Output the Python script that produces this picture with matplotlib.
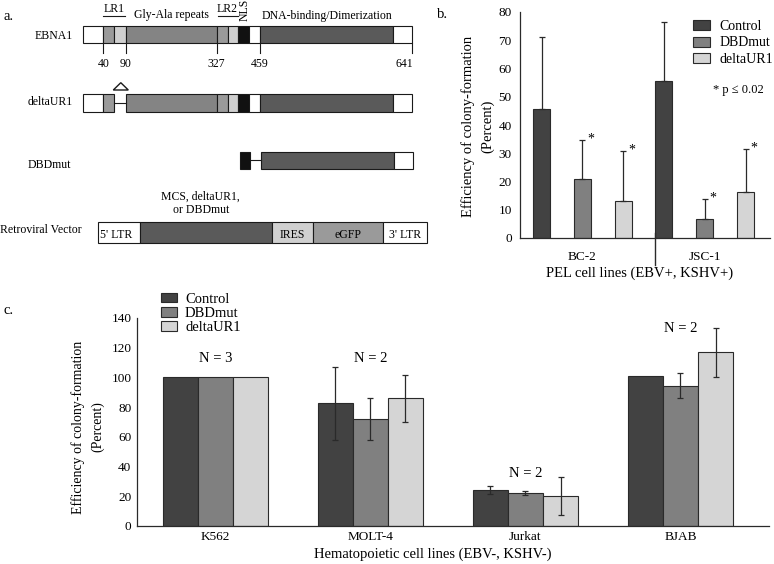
import matplotlib
matplotlib.use('Agg')
import matplotlib.pyplot as plt
from matplotlib.patches import Rectangle, Polygon, Patch
import numpy as np

plt.rcParams['font.family'] = ['Liberation Serif', 'DejaVu Serif']

# ---------------- data ----------------
series = ['Control', 'DBDmut', 'deltaUR1']
colors = ['#424242', '#808080', '#d5d5d5']

# panel b: PEL cell lines
pel_lines = ['BC-2', 'JSC-1']
pel_control = [45.5, 55.5]
pel_dbdmut = [21.0, 6.6]
pel_deltaur1 = [13.1, 16.4]
pel_control_err = [25.5, 20.8]
pel_dbdmut_err = [13.6, 7.3]
pel_deltaur1_err = [17.6, 15.2]
pel_signif = [[False, True, True], [False, True, True]]

# panel c: hematopoietic cell lines
hem_lines = ['K562', 'MOLT-4', 'Jurkat', 'BJAB']
hem_control = [100, 82.4, 24.0, 100.8]
hem_dbdmut = [100, 71.9, 21.8, 94.5]
hem_deltaur1 = [100, 85.8, 20.0, 116.8]
hem_control_err = [0, 24.7, 2.6, 0]
hem_dbdmut_err = [0, 14.2, 1.4, 8.3]
hem_deltaur1_err = [0, 15.7, 12.7, 16.4]
hem_n = ['N = 3', 'N = 2', 'N = 2', 'N = 2']
hem_n_y = [113, 113, 35.5, 133]

# panel a: schematic segments (start, end, fill) in layout units
ebna1_segments = [(82.7, 103.3, 'white'), (103.3, 114.3, '#9a9a9a'), (114.3, 125.7, '#cfcfcf'),
                  (125.7, 216.7, '#848484'), (216.7, 227.7, '#9a9a9a'), (227.7, 238.3, '#cfcfcf'),
                  (238.3, 249.3, '#111111'), (249.3, 260.0, 'white'), (260.0, 393.3, '#5a5a5a'),
                  (393.3, 412.3, 'white')]
ebna1_ticks = [103.3, 125.7, 216.7, 260.0, 412.3]
ebna1_tick_labels = ['40', '90', '327', '459', '641']
delta_segments = [(82.7, 103.3, 'white'), (103.3, 114.3, '#9a9a9a'),
                  (126.0, 217.3, '#848484'), (217.3, 227.7, '#9a9a9a'), (227.7, 238.3, '#cfcfcf'),
                  (238.3, 249.3, '#111111'), (249.3, 260.0, 'white'), (260.0, 393.3, '#5a5a5a'),
                  (393.3, 412.3, 'white')]
dbd_segments = [(239.5, 249.8, '#111111'), (261.0, 394.3, '#5a5a5a'), (394.3, 413.3, 'white')]
vector_segments = [(98.3, 140.0, 'white', "5' LTR"), (140.0, 271.7, '#5a5a5a', ''),
                   (271.7, 313.3, '#d0d0d0', 'IRES'), (313.3, 383.3, '#9a9a9a', 'eGFP'),
                   (383.3, 426.7, 'white', "3' LTR")]

W, H = 774, 564
fig = plt.figure(figsize=(W / 100, H / 100), dpi=100)

def px_axes(left, top, right, bottom):
    return fig.add_axes([left / W, 1 - bottom / H, (right - left) / W, (bottom - top) / H])

# ---------------- overlay for schematic and panel letters ----------------
ov = fig.add_axes([0, 0, 1, 1], zorder=0)
ov.set_xlim(0, W)
ov.set_ylim(H, 0)
ov.axis('off')
ec = '#1a1a1a'

def draw_row(segs, y0, y1):
    for s in segs:
        ov.add_patch(Rectangle((s[0], y0), s[1] - s[0], y1 - y0, facecolor=s[2],
                               edgecolor=ec, linewidth=0.8))

fs_a = 8.5
ov.text(3, 16, 'a.', fontsize=10.5, va='center', ha='left')
ov.text(437, 15, 'b.', fontsize=10.5, va='center', ha='left')
ov.text(3, 311, 'c.', fontsize=10.5, va='center', ha='left')

# EBNA1
draw_row(ebna1_segments, 26, 43.3)
for t, lab in zip(ebna1_ticks, ebna1_tick_labels):
    ov.plot([t, t], [43.3, 53], color=ec, lw=0.8)
    if lab == '641':
        ov.text(t + 1, 64, lab, fontsize=fs_a, ha='right', va='center')
    else:
        ov.text(t, 64, lab, fontsize=fs_a, ha='center', va='center')
ov.text(73, 36, 'EBNA1', fontsize=fs_a, ha='right', va='center')
ov.text(114.5, 9.5, 'LR1', fontsize=fs_a, ha='center', va='center')
ov.plot([103, 125], [15.5, 15.5], color=ec, lw=0.8)
ov.text(171, 15, 'Gly-Ala repeats', fontsize=fs_a, ha='center', va='center')
ov.text(227.5, 9.5, 'LR2', fontsize=fs_a, ha='center', va='center')
ov.plot([217.5, 237.5], [15.5, 15.5], color=ec, lw=0.8)
ov.text(245, 10, 'NLS', fontsize=fs_a, ha='center', va='center', rotation=90)
ov.text(327, 15.5, 'DNA-binding/Dimerization', fontsize=fs_a, ha='center', va='center')

# deltaUR1
ov.add_patch(Polygon([[113.3, 90], [128.3, 90], [120.8, 82.7]], closed=True,
                     facecolor='white', edgecolor=ec, linewidth=1.0))
ov.plot([114.3, 126.0], [103.3, 103.3], color=ec, lw=0.8)
draw_row(delta_segments, 94.3, 112.3)
ov.text(73, 102, 'deltaUR1', fontsize=fs_a, ha='right', va='center')

# DBDmut
ov.plot([249.8, 261.0], [160.3, 160.3], color=ec, lw=0.8)
draw_row(dbd_segments, 151.7, 169)
ov.text(71, 165, 'DBDmut', fontsize=fs_a, ha='right', va='center')

# Retroviral vector
draw_row(vector_segments, 221.7, 243.3)
for s in vector_segments:
    if s[3]:
        if s[3] == "5' LTR":
            ov.text(s[0] + 2, 234.5, s[3], fontsize=fs_a, ha='left', va='center')
        else:
            ov.text((s[0] + s[1]) / 2, 234.5, s[3], fontsize=fs_a, ha='center', va='center')
ov.text(0, 230, 'Retroviral Vector', fontsize=fs_a, ha='left', va='center')
ov.text(200, 196.7, 'MCS, deltaUR1,', fontsize=fs_a, ha='center', va='center')
ov.text(201, 210, 'or DBDmut', fontsize=fs_a, ha='center', va='center')

# ---------------- panel b ----------------
axb = px_axes(520, 12, 770, 238)
axb.set_facecolor('none')
bw = 0.417
vals_b = [pel_control, pel_dbdmut, pel_deltaur1]
errs_b = [pel_control_err, pel_dbdmut_err, pel_deltaur1_err]
for si in range(3):
    xs = np.arange(len(pel_lines)) * 3 + si
    axb.bar(xs, vals_b[si], width=bw, color=colors[si], edgecolor='#2a2a2a', linewidth=0.8,
            zorder=2)
    axb.errorbar(xs, vals_b[si], yerr=[np.zeros(len(xs)), errs_b[si]], fmt='none',
                 ecolor='#2a2a2a', elinewidth=0.9, capsize=2, capthick=0.9, zorder=3)
    for gi, x in enumerate(xs):
        if pel_signif[gi][si]:
            axb.text(x + 0.12, vals_b[si][gi] + errs_b[si][gi] + 0.3, '*', fontsize=10,
                     ha='left', va='center')
axb.set_xlim(-0.527, 5.6)
axb.set_ylim(0, 80)
axb.set_yticks(range(0, 81, 10))
axb.set_xticks([1, 4])
axb.set_xticklabels(pel_lines)
axb.tick_params(axis='both', length=0, labelsize=9.5)
axb.tick_params(axis='x', pad=9)
axb.tick_params(axis='y', pad=6)
for sp in ['top', 'right']:
    axb.spines[sp].set_visible(False)
for sp in ['left', 'bottom']:
    axb.spines[sp].set_color('#2a2a2a')
    axb.spines[sp].set_linewidth(0.9)
sep = 3 - bw / 2
axb.plot([sep, sep], [0.02, -0.12], color='#2a2a2a', lw=1.0,
         transform=axb.get_xaxis_transform(), clip_on=False)
axb.set_xlabel('PEL cell lines (EBV+, KSHV+)', fontsize=10.5, va='top')
axb.xaxis.set_label_coords(0.48, -0.125)
fig.text(477.5 / W, 1 - 126 / H, 'Efficiency of colony-formation\n(Percent)', fontsize=10.5,
         rotation=90, ha='center', va='center', multialignment='center', linespacing=1.6)
handles = [Patch(facecolor=c, edgecolor='#2a2a2a', linewidth=0.8) for c in colors]
axb.legend(handles, series, loc='upper left', bbox_to_anchor=(693 / W, 1 - 20 / H),
           bbox_transform=fig.transFigure, frameon=False, fontsize=10, borderpad=0,
           borderaxespad=0, handlelength=1.2, handleheight=0.72, handletextpad=0.7,
           labelspacing=0.25)
fig.text(712.7 / W, 1 - 90 / H, '* p \u2264 0.02', fontsize=9, ha='left', va='center')

# ---------------- panel c ----------------
axc = px_axes(137, 318, 769, 525.7)
axc.set_facecolor('none')
cw = 0.226
vals_c = [hem_control, hem_dbdmut, hem_deltaur1]
errs_c = [hem_control_err, hem_dbdmut_err, hem_deltaur1_err]
gx = np.arange(len(hem_lines))
for si in range(3):
    xs = gx + (si - 1) * cw
    axc.bar(xs, vals_c[si], width=cw, color=colors[si], edgecolor='#2a2a2a', linewidth=0.8,
            zorder=2)
    e = np.array(errs_c[si], dtype=float)
    m = e > 0
    axc.errorbar(xs[m], np.array(vals_c[si])[m], yerr=e[m], fmt='none', ecolor='#2a2a2a',
                 elinewidth=0.9, capsize=2.2, capthick=0.9, zorder=3)
for gi in range(len(hem_lines)):
    axc.text(gx[gi], hem_n_y[gi], hem_n[gi], fontsize=10.5, ha='center', va='center')
axc.set_xlim(-0.506, 3.571)
axc.set_ylim(0, 140)
axc.set_yticks(range(0, 141, 20))
axc.set_xticks(gx)
axc.set_xticklabels(hem_lines)
axc.tick_params(axis='both', length=0, labelsize=9.5)
axc.tick_params(axis='x', pad=4)
axc.tick_params(axis='y', pad=4)
for sp in ['top', 'right']:
    axc.spines[sp].set_visible(False)
for sp in ['left', 'bottom']:
    axc.spines[sp].set_color('#2a2a2a')
    axc.spines[sp].set_linewidth(0.9)
axc.set_xlabel('Hematopoietic cell lines (EBV-, KSHV-)', fontsize=10.5, va='top')
axc.xaxis.set_label_coords(0.4676, -0.103)
fig.text(88 / W, 1 - 427 / H, 'Efficiency of colony-formation\n(Percent)', fontsize=10,
         rotation=90, ha='center', va='center', multialignment='center', linespacing=1.6)
axc.legend(handles, series, loc='upper left', bbox_to_anchor=(161 / W, 1 - 292.7 / H),
           bbox_transform=fig.transFigure, frameon=False, fontsize=10.5, borderpad=0,
           borderaxespad=0, handlelength=1.1, handleheight=0.65, handletextpad=0.55,
           labelspacing=0.08)

fig.savefig('out.png', dpi=100)
